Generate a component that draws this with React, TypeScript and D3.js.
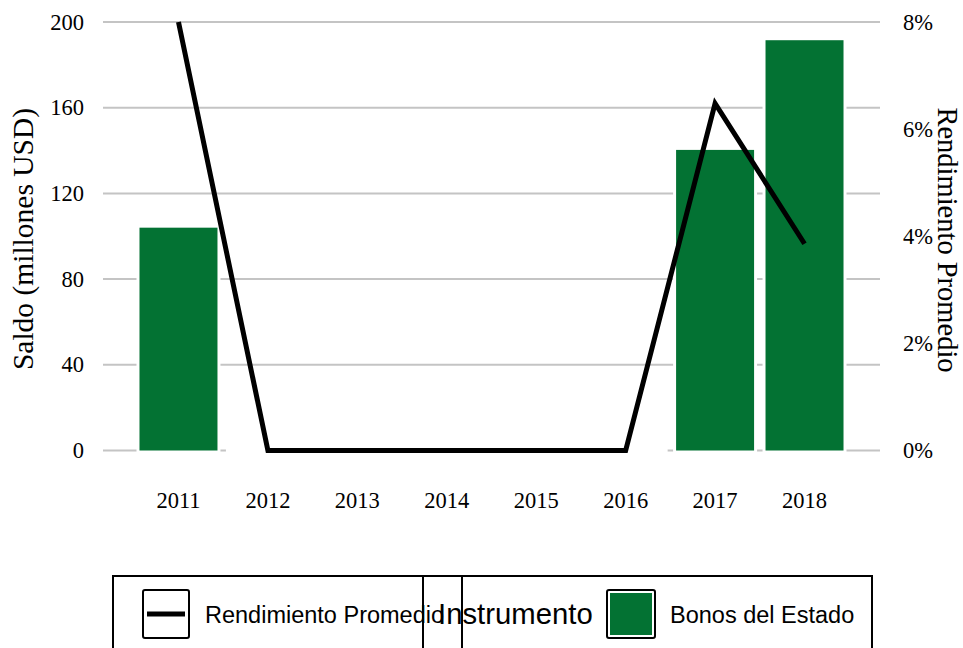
import React from "react";
import * as d3 from "d3";

const years = ["2011", "2012", "2013", "2014", "2015", "2016", "2017", "2018"];
const saldo = [104, 0, 0, 0, 0, 0, 140.3, 191.5];
const rendimiento = [0.08, 0, 0, 0, 0, 0, 0.0648, 0.0386];
const leftTicks = [0, 40, 80, 120, 160, 200];
const rightTicks = [0, 0.02, 0.04, 0.06, 0.08];

const GREEN = "#037233";
const SERIF = "'Liberation Serif', 'Times New Roman', serif";
const SANS = "'Liberation Sans', Arial, sans-serif";

export default function App() {
  const x = d3
    .scaleBand<string>()
    .domain(years)
    .range([103, 880])
    .paddingInner(0.128)
    .paddingOuter(0.408);
  const yL = d3.scaleLinear().domain([0, 200]).range([450.5, 22]);
  const yR = d3.scaleLinear().domain([0, 0.08]).range([450.5, 22]);
  const bw = x.bandwidth();
  const cx = (d: string) => (x(d) as number) + bw / 2;

  const line = d3
    .line<number>()
    .x((_, i) => cx(years[i]))
    .y((d) => yR(d));

  const fmtPct = d3.format(".0%");

  return (
    <svg
      width={963}
      height={648}
      style={{ position: "absolute", left: 0, top: 0, background: "#fff" }}
    >
      <rect x={0} y={0} width={963} height={648} fill="#fff" />
      {leftTicks.map((t) => (
        <line
          key={"g" + t}
          x1={103}
          x2={880}
          y1={yL(t)}
          y2={yL(t)}
          stroke="#c4c4c4"
          strokeWidth={2}
        />
      ))}
      {saldo.map((v, i) => (
        <rect
          key={"h" + i}
          x={(x(years[i]) as number) - 3}
          y={yL(v) - 3}
          width={bw + 6}
          height={yL(0) - yL(v) + 6}
          fill="#fff"
        />
      ))}
      {saldo.map((v, i) =>
        v > 0 ? (
          <rect
            key={"b" + i}
            x={x(years[i]) as number}
            y={yL(v)}
            width={bw}
            height={yL(0) - yL(v)}
            fill={GREEN}
          />
        ) : null
      )}
      <path
        d={line(rendimiento) || ""}
        fill="none"
        stroke="#000"
        strokeWidth={5}
        strokeLinejoin="miter"
      />
      {leftTicks.map((t) => (
        <text
          key={"l" + t}
          x={84}
          y={yL(t) + 7.5}
          textAnchor="end"
          fontFamily={SERIF}
          fontSize={22.5}
          fill="#000"
        >
          {t}
        </text>
      ))}
      {rightTicks.map((t) => (
        <text
          key={"r" + t}
          x={903}
          y={yR(t) + 7.5}
          textAnchor="start"
          fontFamily={SERIF}
          fontSize={22.5}
          fill="#000"
        >
          {fmtPct(t)}
        </text>
      ))}
      {years.map((yy) => (
        <text
          key={"x" + yy}
          x={cx(yy)}
          y={508}
          textAnchor="middle"
          fontFamily={SERIF}
          fontSize={22.5}
          fill="#000"
        >
          {yy}
        </text>
      ))}
      <text
        transform={`translate(33, 239) rotate(-90)`}
        textAnchor="middle"
        fontFamily={SERIF}
        fontSize={29.5}
        fill="#000"
      >
        Saldo (millones USD)
      </text>
      <text
        transform={`translate(938, 240) rotate(90)`}
        textAnchor="middle"
        fontFamily={SERIF}
        fontSize={28.5}
        fill="#000"
      >
        Rendimiento Promedio
      </text>
      <rect x={113} y={576} width={759} height={100} fill="none" stroke="#000" strokeWidth={2} />
      <rect x={423} y={576} width={39} height={100} fill="none" stroke="#000" strokeWidth={2} />
      <rect x={143} y={590} width={46} height={48} rx={2} fill="#fff" stroke="#000" strokeWidth={2} />
      <line x1={147} x2={185} y1={614} y2={614} stroke="#000" strokeWidth={5} />
      <text x={205} y={623} fontFamily={SANS} fontSize={23.5} fill="#000">
        Rendimiento Promedio
      </text>
      <text x={438} y={624} fontFamily={SANS} fontSize={29.3} fill="#000">
        Instrumento
      </text>
      <rect x={607} y={590} width={48} height={48} rx={2} fill="#fff" stroke="#000" strokeWidth={2} />
      <rect x={610} y={593} width={42} height={42} fill={GREEN} />
      <text x={670} y={623} fontFamily={SANS} fontSize={23.5} fill="#000">
        Bonos del Estado
      </text>
    </svg>
  );
}
